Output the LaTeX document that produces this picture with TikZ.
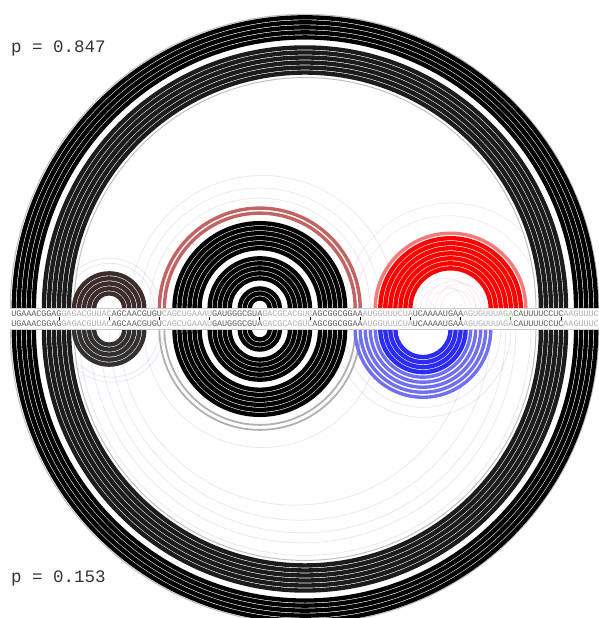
\documentclass[tikz,border=0pt]{standalone}
\usepackage{fontspec}
\setmonofont{Liberation Mono}
\usetikzlibrary{positioning}

\definecolor{seqdark}{HTML}{5C5C5C}
\definecolor{seqlight}{HTML}{ADADAD}
\definecolor{ringgrey}{HTML}{1C1C1C}
\definecolor{brownhelix}{HTML}{3C2C2C}
\definecolor{darkhelix}{HTML}{333030}
\definecolor{rosebrown}{HTML}{C26464}
\definecolor{greyarc}{HTML}{B0B0B0}
\definecolor{lightred}{HTML}{F47A7A}
\definecolor{helixred}{HTML}{FF0000}
\definecolor{helixblue}{HTML}{2C2CF4}
\definecolor{lightblue}{HTML}{7070F0}
\definecolor{faintpink}{HTML}{E0A0B0}
\definecolor{faintblue}{HTML}{9090D8}

% nested arcs: first pair i-j, then i+1 - j-1, ... (#4 arcs)
\newcommand{\helixtop}[4][]{%
  \foreach \k in {1,...,#4}{%
    \pgfmathtruncatemacro{\ii}{#2+\k-1}%
    \pgfmathtruncatemacro{\jj}{#3-\k+1}%
    \pgfmathsetmacro{\rr}{2.51*(\jj-\ii)}%
    \draw[#1] (t\ii) arc[start angle=180, end angle=0, radius=\rr pt];%
  }}
\newcommand{\helixbot}[4][]{%
  \foreach \k in {1,...,#4}{%
    \pgfmathtruncatemacro{\ii}{#2+\k-1}%
    \pgfmathtruncatemacro{\jj}{#3-\k+1}%
    \pgfmathsetmacro{\rr}{2.51*(\jj-\ii)}%
    \draw[#1] (b\ii) arc[start angle=180, end angle=360, radius=\rr pt];%
  }}

\begin{document}
\begin{tikzpicture}[x=1pt, y=1pt,
	nt/.style={font=\ttfamily\fontsize{8.5}{8.5}\selectfont, inner sep=0pt},
	ntdark/.style={nt, text=seqdark},
	ntlight/.style={nt, text=seqlight},
	pair/.style={line width=4.35pt},
	thinpair/.style={line width=3.4pt},
	faint/.style={line width=0.9pt, draw opacity=0.2},
	rim/.style={line width=1pt, draw=black!25},
	tick/.style={line width=0.8pt},
	plabel/.style={font=\ttfamily\fontsize{17.5}{18}\selectfont, text=black!80, inner sep=0pt, anchor=west},
]
	\useasboundingbox (0,0) rectangle (598,618);

	% base positions (t = upper structure, b = lower structure)
	\foreach \i in {1,...,117} {
		\pgfmathsetmacro{\xx}{8.8+5.02*\i}
		\coordinate (t\i) at (\xx,309.5);
		\coordinate (b\i) at (\xx,288.5);
	}

	% faint pairs (low probability)
	\helixtop[faint, faintpink!60!gray]{26}{74}{1}
	\helixtop[faint, faintpink!60!gray]{24}{77}{1}
	\helixtop[faint, faintpink!60!gray]{28}{72}{1}
	\helixtop[faint, faintblue]{10}{30}{2}
	\helixtop[faint, faintpink]{67}{109}{1}
	\helixtop[faint, faintpink]{69}{106}{1}
	\helixtop[faint, faintpink]{81}{93}{1}
	\helixtop[faint, faintpink]{82}{91}{1}
	\helixtop[faint, faintpink]{83}{94}{1}
	\helixtop[faint, faintpink]{84}{92}{1}
	\helixtop[faint, faintpink]{85}{95}{1}
	\helixtop[faint, faintpink]{86}{93}{1}
	\helixbot[faint, faintblue]{14}{104}{1}
	\helixbot[faint, faintblue]{16}{101}{1}
	\helixbot[faint, faintblue]{18}{99}{1}
	\helixbot[faint, faintblue]{20}{96}{1}
	\helixbot[faint, faintblue]{22}{92}{1}
	\helixbot[faint, faintblue]{10}{31}{2}
	\helixbot[faint, faintblue]{27}{74}{1}
	\helixbot[faint, faintblue]{65}{100}{1}
	\helixbot[faint, faintblue]{67}{98}{1}

	% upper structure, p = 0.847
	\draw[rim] ([xshift=-3.5pt]t1) arc[start angle=180, end angle=0, radius=294.2pt];
	\helixtop[pair, black]{1}{117}{5}
	\helixtop[pair, ringgrey]{7}{111}{6}
	\helixtop[rim]{13}{105}{1}
	\helixtop[pair, brownhelix]{13}{27}{5}
	\helixtop[thinpair, rosebrown]{30}{70}{2}
	\helixtop[pair, black]{33}{67}{6}
	\helixtop[pair, black]{40}{60}{5}
	\helixtop[pair, black]{46}{54}{3}
	\helixtop[thinpair, lightred]{73}{103}{1}
	\helixtop[pair, helixred]{74}{102}{7}

	% lower structure, p = 0.153
	\draw[rim] ([xshift=-3.5pt]b1) arc[start angle=180, end angle=360, radius=294.2pt];
	\helixbot[pair, black]{1}{117}{5}
	\helixbot[pair, ringgrey]{7}{111}{6}
	\helixbot[rim]{13}{105}{1}
	\helixbot[pair, darkhelix]{13}{27}{5}
	\helixbot[line width=1.8pt, greyarc]{30}{70}{2}
	\helixbot[pair, black]{33}{67}{6}
	\helixbot[pair, black]{40}{60}{5}
	\helixbot[pair, black]{46}{54}{3}
	\helixbot[thinpair, lightblue]{69}{96}{5}
	\helixbot[pair, helixblue]{74}{91}{4}

	% sequence band
	\draw[black!20, line width=0.6pt] ([xshift=-4pt]t1) -- ([xshift=4pt]t117);
	\draw[black!20, line width=0.6pt] ([xshift=-4pt]b1) -- ([xshift=4pt]b117);
	\foreach \c [count=\i] in {U,G,A,A,A,C,G,G,A,G, G,A,G,A,C,G,U,U,A,C,
		A,G,C,A,A,C,G,U,G,U, C,A,G,C,U,G,A,A,A,U, G,A,U,G,G,G,C,G,U,A,
		G,A,C,G,C,A,C,G,U,C, A,G,C,G,G,C,G,G,A,A, A,U,G,G,U,U,U,C,U,A,
		U,C,A,A,A,A,U,G,A,A, A,G,U,G,U,U,U,A,G,A, C,A,U,U,U,U,C,C,U,C,
		A,A,G,U,U,U,C} {
		\pgfmathtruncatemacro{\dd}{floor((\i-1)/10)}
		\ifodd\dd\relax \def\ncol{ntlight}\else \def\ncol{ntdark}\fi
		\node[\ncol] (s\i) at ([yshift=-5.5pt]t\i) {\c};
		\node[\ncol] (r\i) at ([yshift=6pt]b\i) {\c};
	}

	% ticks every 10 bases
	\foreach \i in {10,20,...,90,110}
		\draw[tick] (s\i.south) -- (r\i.north);
	\draw[tick, green!70!black] (s100.south) -- (r100.north);

	% Labels
	\node[plabel] (ptop) at (11,570) {p = 0.847};
	\node[plabel] (pbot) at (11,40) {p = 0.153};

\end{tikzpicture}
\end{document}
